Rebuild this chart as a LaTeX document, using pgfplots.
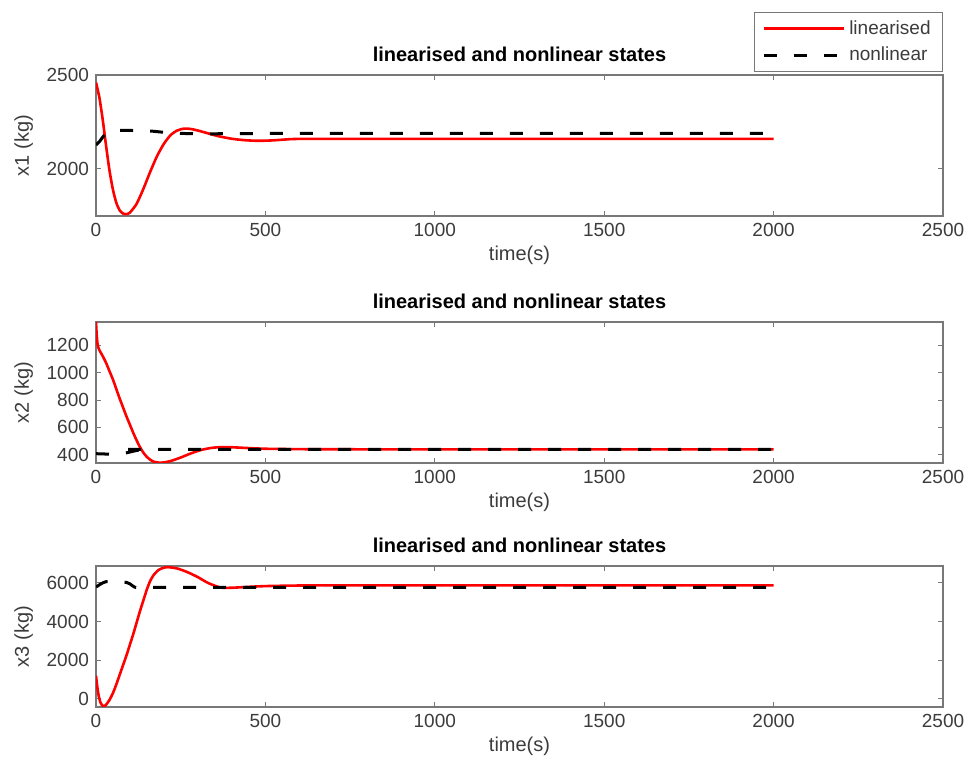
\documentclass[border=0pt]{standalone}
\usepackage{pgfplots}
\pgfplotsset{compat=1.18}
\usepackage{fontspec}
\setmainfont{Liberation Sans}
\definecolor{axgray}{RGB}{120,120,120}
\definecolor{txgray}{RGB}{60,60,60}
\pgfplotsset{
  mystyle/.style={
    scale only axis, width=423.5pt, height=70.5pt,
    xmin=0, xmax=2500, xtick={0,500,...,2500},
    tick align=inside, major tick length=2.5pt,
    axis line style={axgray, line width=0.6pt},
    tick style={axgray, line width=0.5pt},
    ticklabel style={font=\fontsize{9.5}{10}\selectfont, text=txgray},
    /pgf/number format/assume math mode=true,
    /pgf/number format/1000 sep={},
    scaled ticks=false,
    xlabel={time(s)},
    xlabel style={font=\fontsize{10}{11}\selectfont, text=txgray, yshift=2pt},
    ylabel style={font=\fontsize{10}{11}\selectfont, text=txgray},
    title={linearised and nonlinear states},
    title style={font=\bfseries\fontsize{10}{11}\selectfont, yshift=-3pt},
    every axis plot/.append style={line join=round},
    clip=true,
  },
  lin/.style={red, line width=1.3pt, smooth, tension=0.4},
  non/.style={black, line width=1.5pt, dash pattern=on 6.5pt off 8.5pt, smooth, tension=0.4},
}
\begin{document}
\begin{tikzpicture}
\begin{axis}[mystyle, at={(0,0)}, anchor=south west,
  ymin=1750, ymax=2500, ytick={2000,2500}, ylabel={x1 (kg)},
  legend style={at={(1,1.02)}, anchor=south east, draw=axgray, font=\fontsize{9.5}{10}\selectfont, text=txgray, row sep=1pt, inner xsep=4pt, inner ysep=2pt},
  legend cell align=left,
  legend image code/.code={\draw[#1] (0pt,0pt) -- (40pt,0pt);},
]
\addplot[lin] coordinates {(0,2460) (10,2380) (20,2260) (30,2120) (40,1990) (50,1890) (60,1820) (70,1780) (80,1763) (90,1760) (100,1768) (120,1815) (140,1895) (160,1985) (180,2068) (200,2133) (220,2180) (240,2205) (260,2215) (280,2213) (300,2205) (330,2190) (360,2175) (400,2161) (440,2153) (480,2150) (520,2152) (560,2157) (600,2160) (800,2160) (2000,2160)};
\addlegendentry{linearised}
\addplot[non] coordinates {(0,2128) (10,2145) (20,2170) (30,2190) (40,2200) (60,2205) (100,2205) (160,2202) (220,2192) (300,2187) (400,2188) (600,2189) (2000,2189)};
\addlegendentry{nonlinear}
\end{axis}
\begin{axis}[mystyle, at={(0,-123.5pt)}, anchor=south west,
  ymin=340, ymax=1370, ytick={400,600,...,1200}, ylabel={x2 (kg)}]
\addplot[lin] coordinates {(0,1370) (2,1280) (5,1200) (10,1165) (20,1120) (30,1070) (40,1010) (50,950) (60,880) (70,810) (80,745) (90,680) (100,620) (110,560) (120,505) (130,455) (140,415) (150,385) (160,364) (170,350) (180,344) (190,342) (200,344) (220,354) (250,380) (280,410) (310,435) (340,450) (370,456) (400,455) (450,449) (500,444) (600,441) (800,440) (2000,440)};
\addplot[non] coordinates {(0,408) (40,405) (80,410) (100,420) (130,435) (200,440) (2000,440)};
\end{axis}
\begin{axis}[mystyle, at={(0,-245.5pt)}, anchor=south west,
  ymin=-420, ymax=6870, ytick={0,2000,4000,6000}, ylabel={x3 (kg)}]
\addplot[lin] coordinates {(0,1200) (4,600) (8,150) (14,-220) (22,-390) (30,-300) (40,-50) (50,300) (60,750) (70,1250) (80,1750) (90,2250) (100,2800) (110,3350) (120,3950) (130,4550) (140,5100) (150,5650) (160,6100) (170,6400) (185,6670) (200,6780) (213,6810) (240,6740) (270,6550) (300,6300) (330,6000) (366,5760) (400,5745) (450,5790) (500,5830) (600,5860) (800,5870) (2000,5870)};
\addplot[non] coordinates {(0,5780) (15,5950) (30,6060) (60,6070) (90,6020) (100,5950) (112,5800) (130,5760) (300,5765) (2000,5770)};
\end{axis}
\pgfresetboundingbox
\path (-48pt,108pt) rectangle (437pt,-279pt);
\end{tikzpicture}
\end{document}
